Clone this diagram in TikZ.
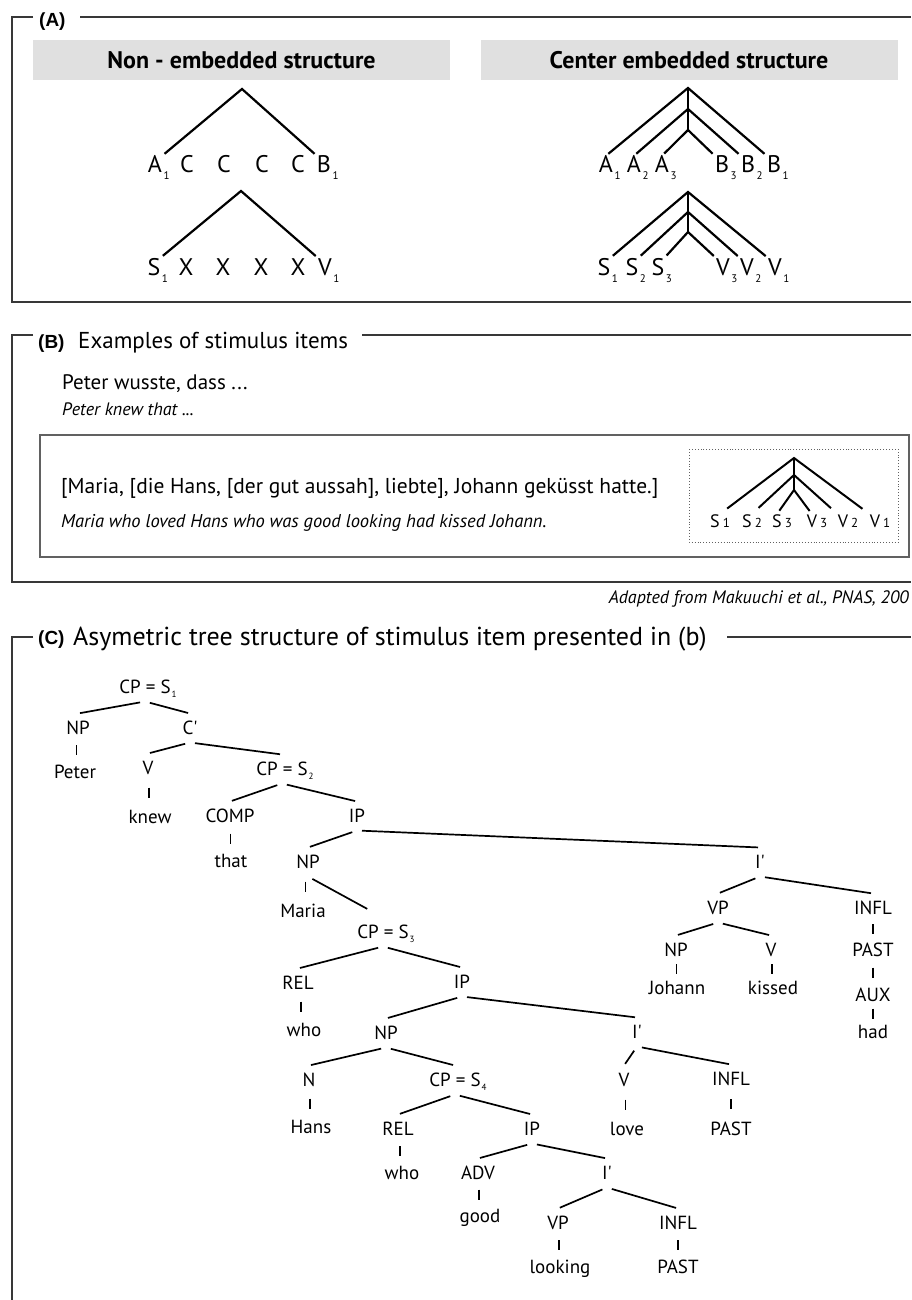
\documentclass[tikz,border=0pt]{standalone}
\usepackage{fontspec}
\setmainfont{PT Sans}
\newfontfamily\panelfont{Liberation Sans}
\usetikzlibrary{positioning,calc}
\newcommand{\subA}[1]{\rlap{\kern1.5pt\raisebox{-7pt}{\fontsize{11}{11}\selectfont #1}}}
\newcommand{\subB}[1]{\rlap{\kern3pt\fontsize{13}{13}\selectfont #1}}
\newcommand{\subC}[1]{\rlap{\kern1pt\raisebox{-4pt}{\fontsize{9}{9}\selectfont #1}}}
\newcommand{\vbar}[2]{\draw[stemline] ($(#1)!.5!(#2)$) +(0,-5) -- +(0,5);}
\newcommand{\pr}{\textquotesingle}
\tikzset{
  panel/.style={draw=black!78, line width=1.8pt},
  hdr/.style={fill=black!12, minimum width=417pt, minimum height=40pt, inner sep=0pt, font=\bfseries\fontsize{24}{26}\selectfont},
  plab/.style={anchor=base west, inner sep=0pt, font=\panelfont\bfseries\fontsize{19}{22}\selectfont},
  ptitle/.style={anchor=base west, inner sep=0pt, font=\fontsize{23}{26}\selectfont},
  leaf/.style={anchor=base, inner sep=0pt, font=\fontsize{24}{28}\selectfont},
  mleaf/.style={anchor=base, inner sep=0pt, font=\fontsize{18}{20}\selectfont},
  leg/.style={line width=2.2pt, shorten <=3pt, shorten >=3pt},
  mleg/.style={line width=2pt, shorten <=9pt, shorten >=9pt},
  trunk/.style={line width=2.2pt},
  cat/.style={inner sep=0pt, outer ysep=8pt, text height=13pt, text depth=0pt, font=\fontsize{19}{21}\selectfont},
  br/.style={line width=1.7pt, shorten <=5pt, shorten >=2pt},
  stemline/.style={line width=1.7pt},
  inbox/.style={draw=black!62, line width=1.3pt},
  dotbox/.style={draw=black!62, line width=0.9pt, dotted},
}
\begin{document}
\begin{tikzpicture}[x=1pt,y=-1pt]
  \useasboundingbox (0,0) rectangle (911,1300);
  \fill[white] (0,0) rectangle (911,1300);

  % (A)
  \draw[panel] (33,17) -| (12,302) -- (911,302);
  \draw[panel] (80,17) -- (911,17);
  \node[plab] (lblA) at (39,27) {(A)};
  \node[hdr] (hdrL) at (241.5,60) {Non - embedded structure};
  \node[hdr] (hdrR) at (689,60) {Center embedded structure};

  \node[leaf] (na1) at (155,173) {A\subA{1}};
  \node[leaf] (nc1) at (187,173) {C};
  \node[leaf] (nc2) at (224,173) {C};
  \node[leaf] (nc3) at (262,173) {C};
  \node[leaf] (nc4) at (298,173) {C};
  \node[leaf] (nb1) at (324,173) {B\subA{1}};
  \coordinate (ntopA) at (242,89);
  \draw[leg] (na1.north east) -- (ntopA) -- (nb1.north west);

  \node[leaf] (ns1) at (154,275) {S\subA{1}};
  \node[leaf] (nx1) at (186,275) {X};
  \node[leaf] (nx2) at (223,275) {X};
  \node[leaf] (nx3) at (261,275) {X};
  \node[leaf] (nx4) at (298,275) {X};
  \node[leaf] (nv1) at (325,275) {V\subA{1}};
  \coordinate (ntopS) at (241,191);
  \draw[leg] (ns1.north east) -- (ntopS) -- (nv1.north west);

  \node[leaf] (ea1) at (606,173) {A\subA{1}};
  \node[leaf] (ea2) at (634,173) {A\subA{2}};
  \node[leaf] (ea3) at (662,173) {A\subA{3}};
  \node[leaf] (eb3) at (722,173) {B\subA{3}};
  \node[leaf] (eb2) at (748,173) {B\subA{2}};
  \node[leaf] (eb1) at (774,173) {B\subA{1}};
  \coordinate (ta1) at (688,88);
  \coordinate (ta2) at (688,109);
  \coordinate (ta3) at (688,130);
  \draw[trunk] (ta1) -- (ta3);
  \draw[leg] (ea1.north) -- (ta1) -- (eb1.north west);
  \draw[leg] (ea2.north) -- (ta2) -- (eb2.north west);
  \draw[leg] (ea3.north) -- (ta3) -- (eb3.north west);

  \node[leaf] (es1) at (604,275) {S\subA{1}};
  \node[leaf] (es2) at (632,275) {S\subA{2}};
  \node[leaf] (es3) at (658,275) {S\subA{3}};
  \node[leaf] (ev3) at (723,275) {V\subA{3}};
  \node[leaf] (ev2) at (747,275) {V\subA{2}};
  \node[leaf] (ev1) at (775,275) {V\subA{1}};
  \coordinate (ts1) at (688,192);
  \coordinate (ts2) at (688,212);
  \coordinate (ts3) at (688,232);
  \draw[trunk] (ts1) -- (ts3);
  \draw[leg] (es1.north east) -- (ts1) -- (ev1.north west);
  \draw[leg] (es2.north east) -- (ts2) -- (ev2.north west);
  \draw[leg] (es3.north east) -- (ts3) -- (ev3.north west);

  % (B)
  \draw[panel] (33,335) -| (12,582) -- (911,582);
  \draw[panel] (362,335) -- (911,335);
  \node[plab] (lblB) at (38,348) {(B)};
  \node[ptitle] (ttlB) at (78,348) {Examples of stimulus items};
  \node[anchor=base west, inner sep=0pt, font=\fontsize{21}{24}\selectfont] (deu1) at (62,389) {Peter wusste, dass ...};
  \node[anchor=base west, inner sep=0pt, font=\itshape\fontsize{18}{20}\selectfont] (eng1) at (62,415) {Peter knew that ...};
  \draw[inbox] (40,435) rectangle (909,557);
  \node[anchor=base west, inner sep=0pt, font=\fontsize{21.5}{24}\selectfont] (deu2) at (61,493) {[Maria, [die Hans, [der gut aussah], liebte], Johann geküsst hatte.]};
  \node[anchor=base west, inner sep=0pt, font=\itshape\fontsize{18.5}{20}\selectfont] (eng2) at (61,527) {Maria who loved Hans who was good looking had kissed Johann.};
  \draw[dotbox] (689,449) rectangle (898,542);
  \node[mleaf] (ms1) at (715,527) {S\subB{1}};
  \node[mleaf] (ms2) at (747,527) {S\subB{2}};
  \node[mleaf] (ms3) at (777,527) {S\subB{3}};
  \node[mleaf] (mv3) at (812,527) {V\subB{3}};
  \node[mleaf] (mv2) at (843,527) {V\subB{2}};
  \node[mleaf] (mv1) at (875,527) {V\subB{1}};
  \coordinate (tm1) at (794,458);
  \coordinate (tm2) at (794,475);
  \coordinate (tm3) at (794,490);
  \draw[trunk, line width=2pt] (tm1) -- (tm3);
  \draw[mleg] (ms1.north east) -- (tm1) -- (mv1.north west);
  \draw[mleg] (ms2.north east) -- (tm2) -- (mv2.north west);
  \draw[mleg, shorten <=4pt, shorten >=4pt] (ms3.north) -- (tm3) -- (mv3.north);
  \node[anchor=base east, inner sep=0pt, font=\itshape\fontsize{18}{20}\selectfont] (src) at (909,603) {Adapted from Makuuchi et al., PNAS, 200};

  % (C)
  \draw[panel] (33,637) -| (12,1300);
  \draw[panel] (727,637) -- (911,637);
  \node[plab] (lblC) at (38,644) {(C)};
  \node[ptitle, font=\fontsize{26}{28}\selectfont] (ttlC) at (73,645) {Asymetric tree structure of stimulus item presented in (b)};

  \node[cat] (cps1) at (145,687) {CP = S\subC{1}};
  \node[cat] (np1) at (78,728) {NP};
  \node[cat] (peter) at (75,772) {Peter};
  \node[cat] (cbar) at (190,728) {C\pr};
  \node[cat] (v1) at (148,768) {V};
  \node[cat] (knew) at (150,817) {knew};
  \node[cat] (cps2) at (282,769) {CP = S\subC{2}};
  \node[cat] (comp) at (230,816) {COMP};
  \node[cat] (that) at (231,861) {that};
  \node[cat] (ip1) at (357,816) {IP};
  \node[cat] (np2) at (308,862) {NP};
  \node[cat] (maria) at (303,911) {Maria};
  \node[cat] (ibar1) at (760,862) {I\pr};
  \node[cat] (vp1) at (718,908) {VP};
  \node[cat] (np3) at (676,950) {NP};
  \node[cat] (johann) at (677,988) {Johann};
  \node[cat] (v3) at (771,950) {V};
  \node[cat] (kissed) at (773,988) {kissed};
  \node[cat] (infl1) at (873,908) {INFL};
  \node[cat] (past1) at (873,950) {PAST};
  \node[cat] (aux) at (873,995) {AUX};
  \node[cat] (had) at (873,1032) {had};
  \node[cat] (cps3) at (383,932) {CP = S\subC{3}};
  \node[cat] (rel1) at (298,983) {REL};
  \node[cat] (who1) at (304,1030) {who};
  \node[cat] (ip2) at (462,982) {IP};
  \node[cat] (np4) at (386,1033) {NP};
  \node[cat] (n1) at (309,1080) {N};
  \node[cat] (hans) at (311,1127) {Hans};
  \node[cat] (cps4) at (455,1080) {CP = S\subC{4}};
  \node[cat] (rel2) at (398,1129) {REL};
  \node[cat] (who2) at (402,1173) {who};
  \node[cat] (ip3) at (532,1129) {IP};
  \node[cat] (adv) at (478,1173) {ADV};
  \node[cat] (good) at (480,1216) {good};
  \node[cat] (ibar3) at (607,1173) {I\pr};
  \node[cat] (vp2) at (558,1223) {VP};
  \node[cat] (looking) at (560,1267) {looking};
  \node[cat] (infl3) at (678,1223) {INFL};
  \node[cat] (past3) at (678,1267) {PAST};
  \node[cat] (ibar2) at (637,1032) {I\pr};
  \node[cat] (v2) at (624,1080) {V};
  \node[cat] (love) at (627,1129) {love};
  \node[cat] (infl2) at (731,1079) {INFL};
  \node[cat] (past2) at (731,1129) {PAST};

  \draw[br] (cps1.south) -- (np1.north);   \draw[br] (cps1.south) -- (cbar.north);
  \draw[br] (cbar.south) -- (v1.north);    \draw[br] (cbar.south) -- (cps2.north);
  \draw[br] (cps2.south) -- (comp.north);  \draw[br] (cps2.south) -- (ip1.north);
  \draw[br] (ip1.south) -- (np2.north);    \draw[br] (ip1.south) -- (ibar1.north);
  \draw[br] (ibar1.south) -- (vp1.north);  \draw[br] (ibar1.south) -- (infl1.north);
  \draw[br] (vp1.south) -- (np3.north);    \draw[br] (vp1.south) -- (v3.north);
  \draw[br, shorten >=18pt] (np2.south) -- (cps3.north);
  \draw[br] (cps3.south) -- (rel1.north);  \draw[br] (cps3.south) -- (ip2.north);
  \draw[br] (ip2.south) -- (np4.north);    \draw[br] (ip2.south) -- (ibar2.north);
  \draw[br] (np4.south) -- (n1.north);     \draw[br] (np4.south) -- (cps4.north);
  \draw[br] (ibar2.south) -- (v2.north);   \draw[br] (ibar2.south) -- (infl2.north);
  \draw[br] (cps4.south) -- (rel2.north);  \draw[br] (cps4.south) -- (ip3.north);
  \draw[br] (ip3.south) -- (adv.north);    \draw[br] (ip3.south) -- (ibar3.north);
  \draw[br] (ibar3.south) -- (vp2.north);  \draw[br] (ibar3.south) -- (infl3.north);

  \vbar{np1}{peter} \vbar{v1}{knew} \vbar{comp}{that} \vbar{np2}{maria}
  \vbar{np3}{johann} \vbar{v3}{kissed} \vbar{infl1}{past1} \vbar{past1}{aux} \vbar{aux}{had}
  \vbar{rel1}{who1} \vbar{n1}{hans} \vbar{rel2}{who2} \vbar{adv}{good}
  \vbar{vp2}{looking} \vbar{infl3}{past3} \vbar{v2}{love} \vbar{infl2}{past2}
\end{tikzpicture}
\end{document}
